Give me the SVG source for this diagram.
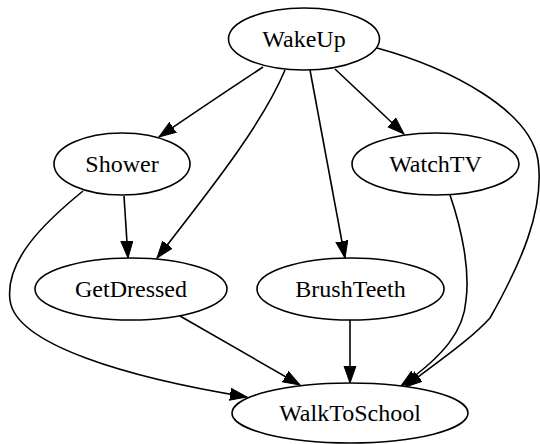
<svg xmlns="http://www.w3.org/2000/svg" width="540" height="444" viewBox="0 0 540 444">
<style>
  .node ellipse { fill: #ffffff; stroke: #000000; stroke-width: 1.6; }
  .node text { font-size: 24px; text-anchor: middle; fill: #000000; }
  .edges path { fill: none; stroke: #000000; stroke-width: 1.6; marker-end: url(#arrow); }
</style>
<defs>
  <marker id="arrow" markerUnits="userSpaceOnUse" markerWidth="20" markerHeight="14" refX="17" refY="6.5" orient="auto">
    <path d="M0,0.5 L17,6.5 L0,12.5 z" fill="#000000" stroke="#000000" stroke-width="1"/>
  </marker>
</defs>
<rect width="540" height="444" fill="#ffffff"/>
<g id="edges" class="edges">
  <path d="M263,67 C 230,89 195,112 159,137"/>
  <path d="M285,70 C 262,125 210,190 157,258"/>
  <path d="M310,70 L345,258"/>
  <path d="M335,69 L404,134"/>
  <path d="M377,48 C 450,68 530,110 538,160 C 545,210 520,265 490,318 C 470,340 440,360 405,387"/>
  <path d="M450,195 C 462,230 470,270 466,300 C 464,330 445,355 401,386"/>
  <path d="M124,196 L128,258"/>
  <path d="M83,191 C 45,222 5,260 10,300 C 15,345 130,378 247,397"/>
  <path d="M180,316 L300,385"/>
  <path d="M350,320 L350,383"/>
</g>
<g font-family="Liberation Serif, Times New Roman, serif">
<g id="WakeUp" class="node">
  <ellipse cx="304" cy="39" rx="75.5" ry="31"/>
  <text x="304" y="47" font-family="Liberation Serif, serif">WakeUp</text>
</g>
<g id="Shower" class="node">
  <ellipse cx="122" cy="164" rx="68" ry="31"/>
  <text x="122" y="172" font-family="Liberation Serif, serif">Shower</text>
</g>
<g id="WatchTV" class="node">
  <ellipse cx="435.5" cy="164" rx="83.5" ry="31"/>
  <text x="435.5" y="172" font-family="Liberation Serif, serif">WatchTV</text>
</g>
<g id="GetDressed" class="node">
  <ellipse cx="131" cy="289" rx="96" ry="31"/>
  <text x="131" y="297" font-family="Liberation Serif, serif">GetDressed</text>
</g>
<g id="BrushTeeth" class="node">
  <ellipse cx="350.5" cy="289" rx="93.5" ry="31"/>
  <text x="350.5" y="297" font-family="Liberation Serif, serif">BrushTeeth</text>
</g>
<g id="WalkToSchool" class="node">
  <ellipse cx="350" cy="413" rx="118" ry="30"/>
  <text x="350" y="421" font-family="Liberation Serif, serif">WalkToSchool</text>
</g>
</g>
</svg>
